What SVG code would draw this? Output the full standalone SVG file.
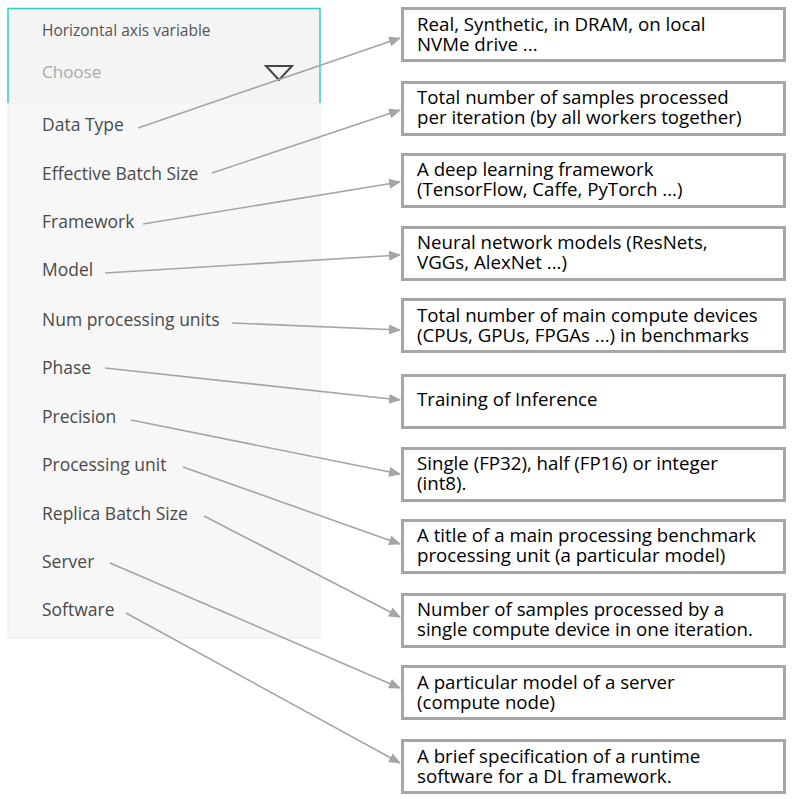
<svg xmlns="http://www.w3.org/2000/svg" width="793" height="799" viewBox="0 0 793 799">
<defs>
<style>
.lbl{font-family:"Open Sans","Noto Sans",sans-serif;font-size:17.5px;fill:#4a4a4a}
.box rect{fill:#fff;stroke:#a6a6a6;stroke-width:3}
.box text{font-family:"Open Sans","Noto Sans",sans-serif;font-size:18.7px;fill:#000}
.conn line{stroke:#a5a5a5;stroke-width:1.6;marker-end:url(#arr)}
</style>
<marker id="arr" viewBox="0 0 12 10" refX="11" refY="5" markerWidth="12" markerHeight="10" markerUnits="userSpaceOnUse" orient="auto">
<path d="M0,0 L12,5 L0,10 z" fill="#a5a5a5"/>
</marker>
</defs>
<g id="panel">
<rect x="8" y="103" width="312" height="535" fill="#f7f7f7" stroke="#ececec" stroke-width="1"/>
<path d="M8,103 V8.5 H320 V103" fill="#f4f4f4" stroke="#2fcfc6" stroke-width="1.5"/>
<text x="42" y="36" class="lbl" style="font-size:15.5px;fill:#555">Horizontal axis variable</text>
<text x="42" y="78" class="lbl" style="font-size:17px;fill:#aaa">Choose</text>
<path d="M266,66 L292,66 L279,80 z" fill="none" stroke="#444" stroke-width="2"/>
<text x="42" y="131" class="lbl">Data Type</text>
<text x="42" y="180" class="lbl">Effective Batch Size</text>
<text x="42" y="228" class="lbl">Framework</text>
<text x="42" y="276" class="lbl">Model</text>
<text x="42" y="326" class="lbl">Num processing units</text>
<text x="42" y="374" class="lbl">Phase</text>
<text x="42" y="423" class="lbl">Precision</text>
<text x="42" y="471" class="lbl">Processing unit</text>
<text x="42" y="520" class="lbl">Replica Batch Size</text>
<text x="42" y="568" class="lbl">Server</text>
<text x="42" y="616" class="lbl">Software</text>
</g>
<g id="n1" class="box"><rect x="402.5" y="8.5" width="382" height="52"/><text x="417" y="31">Real, Synthetic, in DRAM, on local</text><text x="417" y="51">NVMe drive ...</text></g>
<g id="n2" class="box"><rect x="402.5" y="82.5" width="382" height="52"/><text x="417" y="104">Total number of samples processed</text><text x="417" y="124">per iteration (by all workers together)</text></g>
<g id="n3" class="box"><rect x="402.5" y="154.5" width="382" height="52"/><text x="417" y="176">A deep learning framework</text><text x="417" y="196">(TensorFlow, Caffe, PyTorch ...)</text></g>
<g id="n4" class="box"><rect x="402.5" y="227.5" width="382" height="52"/><text x="417" y="249">Neural network models (ResNets,</text><text x="417" y="269">VGGs, AlexNet ...)</text></g>
<g id="n5" class="box"><rect x="402.5" y="299.5" width="382" height="52"/><text x="417" y="322">Total number of main compute devices</text><text x="417" y="342">(CPUs, GPUs, FPGAs ...) in benchmarks</text></g>
<g id="n6" class="box"><rect x="402.5" y="375.5" width="382" height="52"/><text x="417" y="406">Training of Inference</text></g>
<g id="n7" class="box"><rect x="402.5" y="448.5" width="382" height="52"/><text x="417" y="470">Single (FP32), half (FP16) or integer</text><text x="417" y="490">(int8).</text></g>
<g id="n8" class="box"><rect x="402.5" y="520.5" width="382" height="52"/><text x="417" y="542">A title of a main processing benchmark</text><text x="417" y="562">processing unit (a particular model)</text></g>
<g id="n9" class="box"><rect x="402.5" y="594.5" width="382" height="52"/><text x="417" y="616">Number of samples processed by a</text><text x="417" y="636">single compute device in one iteration.</text></g>
<g id="n10" class="box"><rect x="402.5" y="666.5" width="382" height="52"/><text x="417" y="689">A particular model of a server</text><text x="417" y="709">(compute node)</text></g>
<g id="n11" class="box"><rect x="402.5" y="740.5" width="382" height="52"/><text x="417" y="763">A brief specification of a runtime</text><text x="417" y="783">software for a DL framework.</text></g>
<g id="connectors" class="conn">
<line x1="138" y1="128" x2="400" y2="38"/>
<line x1="212" y1="173" x2="400" y2="110"/>
<line x1="143" y1="224" x2="400" y2="182"/>
<line x1="105" y1="273" x2="400" y2="255"/>
<line x1="232" y1="323" x2="400" y2="330"/>
<line x1="105" y1="368" x2="400" y2="400"/>
<line x1="131" y1="420" x2="400" y2="474"/>
<line x1="183" y1="467" x2="400" y2="544"/>
<line x1="204" y1="516" x2="400" y2="617"/>
<line x1="110" y1="563" x2="400" y2="688"/>
<line x1="126" y1="613" x2="400" y2="763"/>
</g>
</svg>
